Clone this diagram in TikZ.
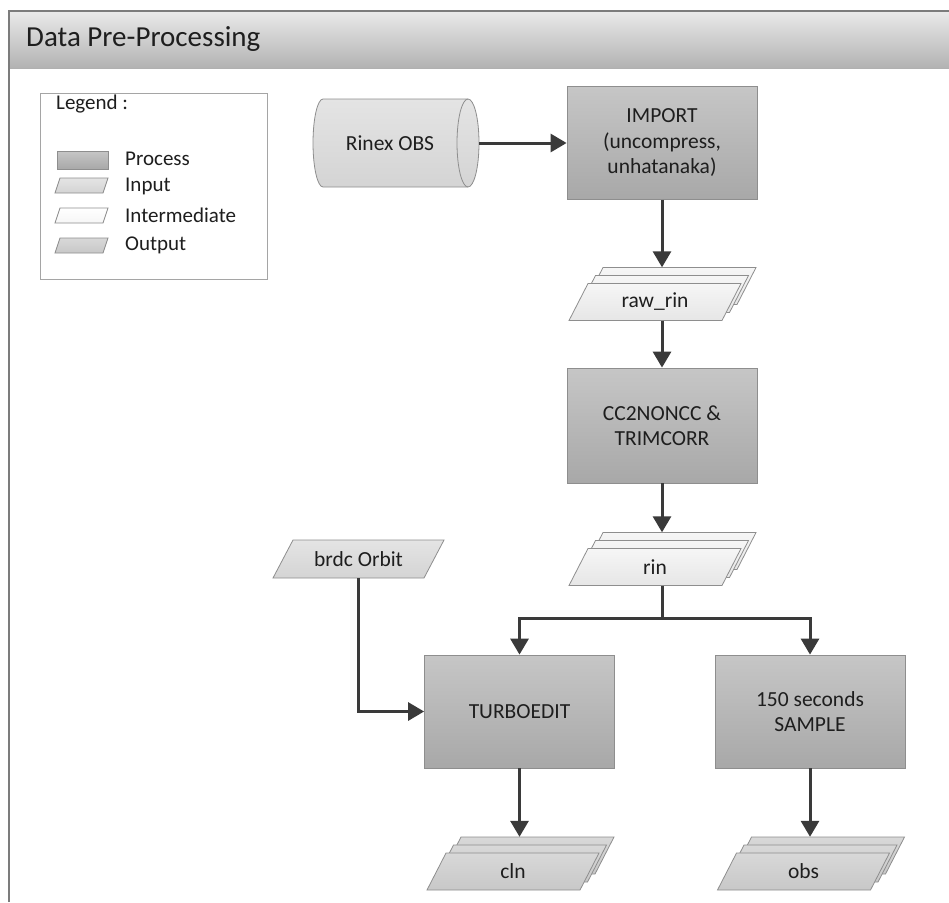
\documentclass[tikz,border=0pt]{standalone}
\usepackage{fontspec}
\setmainfont{Carlito}
\usetikzlibrary{arrows.meta}
\definecolor{bandtop}{HTML}{EAEAEA}
\definecolor{bandbot}{HTML}{B2B2B2}
\definecolor{framec}{HTML}{7C7C7C}
\definecolor{proctop}{HTML}{C6C6C6}
\definecolor{procbot}{HTML}{A8A8A8}
\definecolor{shapedraw}{HTML}{8E8E8E}
\definecolor{intop}{HTML}{E4E4E4}
\definecolor{inbot}{HTML}{D4D4D4}
\definecolor{midtop}{HTML}{F6F6F6}
\definecolor{midbot}{HTML}{E6E6E6}
\definecolor{outtop}{HTML}{D8D8D8}
\definecolor{outbot}{HTML}{C8C8C8}
\definecolor{arrc}{HTML}{3A3A3A}
\definecolor{txt}{HTML}{1E1E1E}
\newcommand\nf{\fontsize{21.5}{25.5}\selectfont}
% #1 name, #2 cx, #3 cy, #4 total width, #5 height, #6 slant, #7 fill style, #8 font, #9 text
\newcommand\paral[9]{%
  \path[#7, draw=shapedraw, line width=0.8pt]
    ({#2-#4/2},{#3+#5/2}) -- ({#2+#4/2-#6},{#3+#5/2}) -- ({#2+#4/2},{#3-#5/2}) -- ({#2-#4/2+#6},{#3-#5/2}) -- cycle;
  \node[minimum width=#4, minimum height=#5, inner sep=0, font=#8] (#1) at (#2,#3) {#9};
}
\begin{document}
\begin{tikzpicture}[x=1pt,y=-1pt,
  every node/.style={text=txt},
  proc/.style={rectangle, draw=shapedraw, line width=0.8pt, top color=proctop, bottom color=procbot,
    minimum width=190, minimum height=113, align=center, font=\nf, inner sep=0},
  infill/.style={top color=intop, bottom color=inbot},
  midfill/.style={top color=midtop, bottom color=midbot},
  outfill/.style={top color=outtop, bottom color=outbot},
  lbl/.style={anchor=west, font=\fontsize{21}{24}\selectfont, inner sep=0},
  arr/.style={draw=arrc, line width=3pt, -{Triangle[width=18pt,length=16pt]}},
  lin/.style={draw=arrc, line width=3pt}
]
\useasboundingbox (0,0) rectangle (949,902);
\fill[white] (0,0) rectangle (949,902);
% title band
\shade[top color=bandtop, bottom color=bandbot] (9,11) rectangle (949,68);
\draw[framec!60, line width=1pt] (9,68) -- (949,68);
\draw[framec, line width=1.3pt] (9,902) -- (9,11) -- (949,11);
\node[anchor=west, font=\fontsize{29}{32}\selectfont, inner sep=0] (title) at (26,39) {Data Pre-Processing};

% legend
\node[draw=shapedraw!80, line width=1pt, minimum width=227, minimum height=186, anchor=north west, inner sep=0] (legend) at (40,93) {};
\node[lbl] (legtitle) at (56,104) {Legend :};
\node[rectangle, draw=shapedraw, line width=0.8pt, top color=proctop, bottom color=procbot, minimum width=51, minimum height=18, inner sep=0] (lproc) at (82.5,160) {};
\paral{linput}{81.5}{185.5}{53}{15}{5}{infill}{\nf}{}
\paral{linter}{81.5}{215.5}{53}{15}{5}{top color=white, bottom color=midtop}{\nf}{}
\paral{loutput}{81.5}{245.5}{53}{15}{5}{outfill}{\nf}{}
\node[lbl] (tproc) at (125,159) {Process};
\node[lbl] (tinput) at (125,186) {Input};
\node[lbl] (tinter) at (125,215) {Intermediate};
\node[lbl] (toutput) at (125,245) {Output};

% Rinex OBS cylinder
\path[infill, draw=shapedraw, line width=0.8pt]
  (468,99) -- (323,99) .. controls (317.5,99) and (313,118.7) .. (313,143)
  .. controls (313,167.3) and (317.5,187) .. (323,187) -- (468,187)
  .. controls (474.1,187) and (479,167.3) .. (479,143)
  .. controls (479,118.7) and (474.1,99) .. (468,99) -- cycle;
\draw[shapedraw, line width=0.8pt] (468,99) .. controls (461.9,99) and (457,118.7) .. (457,143)
  .. controls (457,167.3) and (461.9,187) .. (468,187);
\node[font=\nf] (rinex) at (390,143) {Rinex OBS};
\coordinate (rinexend) at (479,143);

% process boxes
\node[proc] (import) at (662,143) {IMPORT\\(uncompress,\\unhatanaka)};
\node[proc, minimum height=115] (cc) at (662,425.5) {CC2NONCC \&\\TRIMCORR};
\node[proc] (turbo) at (519.5,711.5) {TURBOEDIT};
\node[proc] (sample) at (810,711.5) {150 seconds\\SAMPLE};

% raw_rin stack
\paral{rawrin3}{670}{286}{172}{37}{19}{midfill}{\nf}{}
\paral{rawrin2}{662.5}{294}{172}{37}{19}{midfill}{\nf}{}
\paral{rawrin}{655}{302}{172}{37}{19}{midfill}{\nf}{raw\_rin}
% rin stack
\paral{rin3}{670}{551}{172}{37}{19}{midfill}{\nf}{}
\paral{rin2}{662.5}{559}{172}{37}{19}{midfill}{\nf}{}
\paral{rin}{655}{567}{172}{37}{19}{midfill}{\nf}{rin}
% brdc
\paral{brdc}{358.5}{559}{171}{38}{20}{infill}{\nf}{brdc Orbit}
% cln stack
\paral{cln3}{528}{855.5}{172}{37}{19}{outfill}{\nf}{}
\paral{cln2}{520.5}{863.5}{172}{37}{19}{outfill}{\nf}{}
\paral{cln}{513}{871.5}{172}{37}{19}{outfill}{\nf}{cln}
% obs stack
\paral{obs3}{818.5}{855.5}{172}{37}{19}{outfill}{\nf}{}
\paral{obs2}{811}{863.5}{172}{37}{19}{outfill}{\nf}{}
\paral{obs}{803.5}{871.5}{172}{37}{19}{outfill}{\nf}{obs}

% connectors
\coordinate (split) at (662,618);
\draw[arr] (rinexend) -- (import);
\draw[arr] (import.south) -- (import.south |- rawrin3.north);
\draw[arr] (import.south |- rawrin.south) -- (cc.north);
\draw[arr] (cc.south) -- (cc.south |- rin3.north);
\draw[lin] (cc.south |- rin.south) -- (split);
\draw[arr] (split) -| (turbo.north);
\draw[arr] (split) -| (sample.north);
\draw[arr] (brdc.south) |- (turbo.west);
\draw[arr] (turbo.south) -- (turbo.south |- cln3.north);
\draw[arr] (sample.south) -- (sample.south |- obs3.north);
\end{tikzpicture}
\end{document}
